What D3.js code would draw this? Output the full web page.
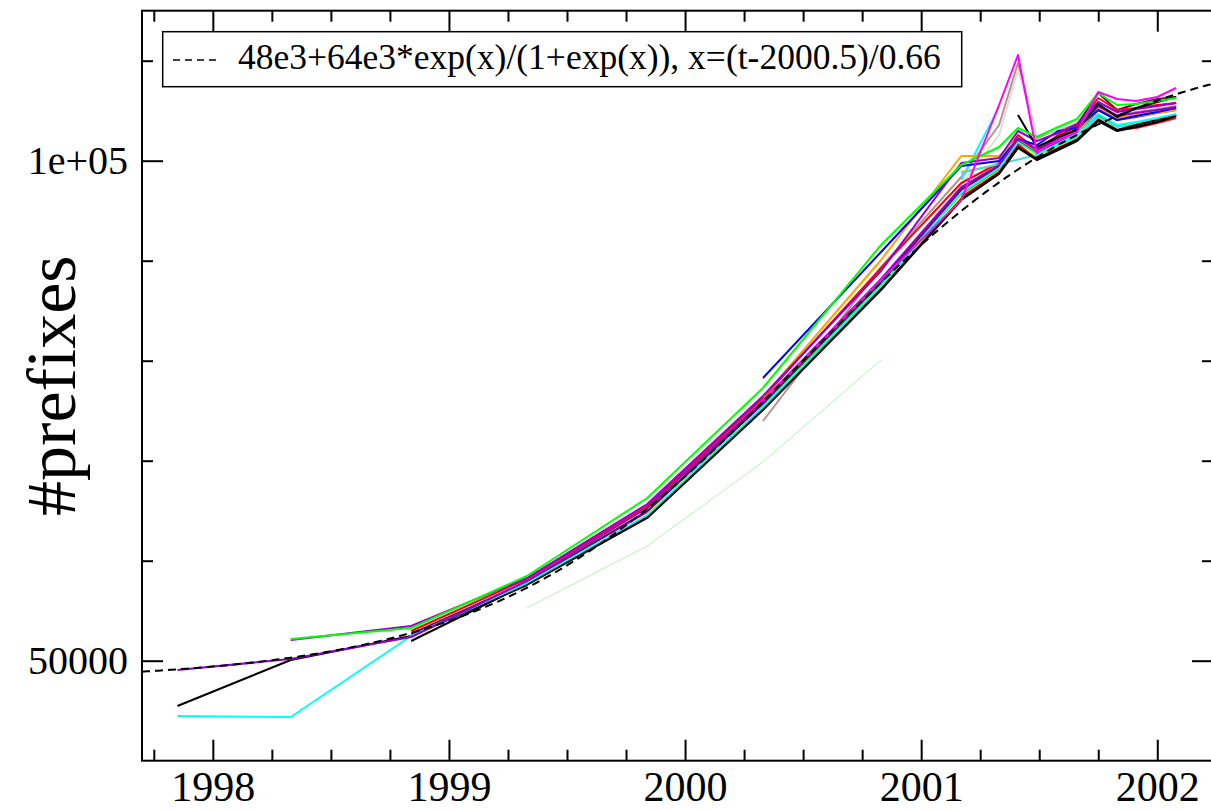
<!DOCTYPE html>
<html>
<head>
<meta charset="utf-8">
<script src="https://cdn.jsdelivr.net/npm/d3@7"></script>
<style>
  body { margin: 0; background: #fff; }
  svg { display: block; }
</style>
</head>
<body>
<svg id="chart" width="1211" height="810"></svg>
<script>
// sample times (decimal years)
var times = [1997.85, 1998.33, 1998.84, 1999.33, 1999.84, 2000.33, 2000.83, 2001.17, 2001.33,
  2001.41, 2001.49, 2001.58, 2001.66, 2001.75, 2001.83, 2001.91, 2002.0, 2002.08];

var xMajor = [1998, 1999, 2000, 2001, 2002];
var xMinor = [1997.75, 1998.25, 1998.5, 1998.75, 1999.25, 1999.5, 1999.75, 2000.25, 2000.5, 2000.75,
  2001.25, 2001.5, 2001.75];
var yMajor = [50000, 100000];
var yMinor = [60000, 70000, 80000, 90000, 110000];
var yLabels = {50000: "50000", 100000: "1e+05"};

// fit from the legend: 48e3+64e3*exp(x)/(1+exp(x)), x=(t-2000.5)/0.66
var fitBase = 48e3, fitAmp = 64e3, fitMid = 2000.5, fitWidth = 0.66;
var legendText = "48e3+64e3*exp(x)/(1+exp(x)), x=(t-2000.5)/0.66";

var _ = null;
var brown    = [_, _, _, _, _, 73970, 89370, 98370, 103570, 109770, 102270, 103170, 103570, 105570, 104570, 104870, 105170, 105470];
var grey     = [_, _, _, _, _, _, _, 97570, 102570, 109070, 102470, 103170, 103870, 105770, 104870, 105070, 105370, 105670];
var ltgreen  = [_, _, _, 55270, 61470, 69870, 80070, _, _, _, _, _, _, _, _, _, _, _];
var cyan2    = [_, _, _, _, _, _, _, 98070, 105370, _, _, _, _, _, _, _, _, _];
var orange2  = [_, _, _, _, _, _, _, 98870, 99570, 102270, 101170, 102270, 103070, 105270, 104270, 104570, 104870, 105170];
var indigo   = [_, _, _, 57870, 64870, 75670, 87870, 97070, 99370, 101970, 100770, 101870, 102770, 105070, 104070, 104370, 104770, 105070];
var green4   = [_, _, _, _, _, 75570, 87670, 96570, 99070, 101470, 100370, 101370, 102270, 104470, 103470, 103770, 104170, 104570];
var yellow   = [_, _, _, _, 64670, 75370, 87470, 96470, 98970, 101670, 100470, 101470, 102370, 104270, 103370, 103670, 104070, 104570];
var maroon   = [_, _, 52670, 57870, 64970, 75770, 87970, 97170, 99470, 102070, 100870, 102370, 103570, 106770, 105070, 105670, 106170, 106370];
var red2     = [_, _, _, _, _, _, _, 96370, 98870, 101670, 100070, 101270, 102070, 104170, 103070, 103270, 103770, 104270];
var red      = [_, _, 52970, 58170, 65470, 76270, 89270, 97770, 99770, 102570, 101070, 102570, 103370, 106270, 105070, 105270, 105570, 105770];
var orange   = [_, _, _, _, _, 76370, 90070, 100470, 100470, 102170, 100970, 102070, 102870, 105170, 104170, 104470, 104770, 105070];
var blue     = [_, _, _, _, _, 78270, 90870, 99470, 99970, 102170, 101570, 102970, 103270, 105070, 104070, 104470, 104870, 105270];
var turquoise= [_, _, _, _, _, _, _, 98770, _, _, 100570, 101570, 102370, 104370, 103370, 103670, 104070, 104470];
var black3   = [_, _, 51970, 57670, 64370, 75170, 87170, 96170, 98770, 101370, 100170, 101170, 102070, 104070, 103070, 103570, 104070, 104570];
var black    = [45470, 50070, 52470, 57570, 64270, 75070, 87070, 96070, 98670, 101270, 100070, 101070, 101970, 103970, 102970, 103370, 103870, 104470];
var cyan     = [44470, 44370, 52470, 57770, 64570, 75370, 87470, 96770, 99270, 101870, 100670, 101670, 102670, 104670, 103570, 103870, 104270, 104670];
var violet   = [49070, 50170, 52370, 57970, 65270, 75970, 88170, 97370, 99570, 102270, 101070, 102170, 103170, 105470, 104470, 104770, 105070, 105370];
var violet2  = [_, 52070, 53470, 58270, 65670, 76470, 88970, 99770, 100270, 102970, 101970, 102770, 103670, 105870, 104870, 105170, 105470, 105770];
var black2   = [_, _, _, _, _, _, _, _, _, 104570, 101370, 102370, 103070, 105670, 104370, 105270, 105870, 106370];
var green    = [_, 52170, 53270, 58470, 66270, 77270, 91570, 99570, 101370, 103270, 102370, 103370, 104170, 106770, 105570, 105670, 105970, 106270];
var magenta  = [_, _, _, _, _, 75970, 88070, 96070, 105570, 110570, 100770, 102070, 102870, 106870, 106170, 105970, 106370, 107270];

var series = [
  {v: brown, c: "rgb(188,143,143)"}, {v: grey, c: "rgb(220,220,220)"},
  {v: ltgreen, c: "#b4f3b4", w: 1}, {v: cyan2, c: "#00ffff"}, {v: orange2, c: "#ffa500"},
  {v: indigo, c: "rgb(114,33,188)"}, {v: green4, c: "rgb(0,139,0)"}, {v: yellow, c: "#ffff00"},
  {v: maroon, c: "rgb(103,7,72)"}, {v: red2, c: "#ff0000"}, {v: red, c: "#ff0000"},
  {v: orange, c: "#ffa500"}, {v: blue, c: "#0000ff"}, {v: turquoise, c: "rgb(64,224,208)"},
  {v: black3, c: "#000"}, {v: black, c: "#000"}, {v: cyan, c: "#00ffff"},
  {v: violet, c: "rgb(148,0,211)"}, {v: violet2, c: "rgb(148,0,211)"}, {v: black2, c: "#000"},
  {v: green, c: "#00ff00"}, {v: magenta, c: "#ff00ff"}
];

// pick a Times-like font if one is installed, else fall back to sans sizes
function hasFont(f){
  var c = document.createElement("canvas").getContext("2d");
  var s = "#prefixes 48e3+64e3*exp(x) 1998";
  c.font = "40px monospace";
  var a = c.measureText(s).width;
  c.font = '40px "' + f + '", monospace';
  return c.measureText(s).width !== a;
}
var serifName = ["Liberation Serif", "Tinos", "Times New Roman", "DejaVu Serif", "Noto Serif", "FreeSerif"]
  .find(hasFont);
var font = serifName ? '"' + serifName + '", serif' : '"Liberation Sans", Arial, sans-serif';
var fs = serifName
  ? {x: 42, y: 40, title: 70, legend: 35.5}
  : {x: 40, y: 36.5, title: 71, legend: 36.8};

var L = 142, R = 1213, T = 10.7, B = 760.7;
var svg = d3.select("#chart");
var x = d3.scaleLinear().domain([1997.7, 2002.236]).range([L, R]);
var y = d3.scaleLinear().domain([40000, 115000]).range([B, T]);

var plot = svg.append("g");
var line = d3.line().x(d => x(d.t)).y(d => y(d.v));

series.forEach(function(s){
  var pts = s.v.map((v, i) => ({t: times[i], v: v})).filter(d => d.v != null);
  plot.append("path")
      .attr("d", line(pts))
      .attr("fill", "none")
      .attr("stroke", s.c)
      .attr("stroke-width", s.w || 2)
      .attr("stroke-linejoin", "round");
});

// fitted curve
var fitPts = d3.range(x.domain()[0], x.domain()[1], 0.01).map(function(t){
  var e = Math.exp((t - fitMid) / fitWidth);
  return {t: t, v: fitBase + fitAmp * e / (1 + e)};
});
plot.append("path")
    .attr("d", line(fitPts))
    .attr("fill", "none")
    .attr("stroke", "#000")
    .attr("stroke-width", 2)
    .attr("stroke-dasharray", "8,5");

// axes (ticks pointing inward)
function style(g){
  g.attr("font-family", font);
  g.select(".domain").remove();
  g.selectAll("line").attr("stroke", "#000").attr("stroke-width", 2);
  g.selectAll("text").attr("fill", "#000");
}
svg.append("g").attr("transform", "translate(0," + B + ")")
   .call(d3.axisBottom(x).tickValues(xMajor).tickSize(-21).tickPadding(10).tickFormat(d3.format("d")))
   .call(style).selectAll("text").attr("font-size", fs.x);
svg.append("g").attr("transform", "translate(0," + B + ")")
   .call(d3.axisBottom(x).tickValues(xMinor).tickSize(-11).tickFormat("")).call(style);
svg.append("g").attr("transform", "translate(0," + T + ")")
   .call(d3.axisTop(x).tickValues(xMajor).tickSize(-21).tickFormat("")).call(style);
svg.append("g").attr("transform", "translate(0," + T + ")")
   .call(d3.axisTop(x).tickValues(xMinor).tickSize(-11).tickFormat("")).call(style);
svg.append("g").attr("transform", "translate(" + L + ",0)")
   .call(d3.axisLeft(y).tickValues(yMajor).tickSize(-21).tickPadding(14).tickFormat(d => yLabels[d]))
   .call(style).selectAll("text").attr("font-size", fs.y);
svg.append("g").attr("transform", "translate(" + L + ",0)")
   .call(d3.axisLeft(y).tickValues(yMinor).tickSize(-11).tickFormat("")).call(style);
svg.append("g").attr("transform", "translate(" + R + ",0)")
   .call(d3.axisRight(y).tickValues(yMajor).tickSize(-21).tickFormat("")).call(style);
svg.append("g").attr("transform", "translate(" + R + ",0)")
   .call(d3.axisRight(y).tickValues(yMinor).tickSize(-11).tickFormat("")).call(style);

svg.append("rect")
   .attr("x", L).attr("y", T).attr("width", R - L).attr("height", B - T)
   .attr("fill", "none").attr("stroke", "#000").attr("stroke-width", 2);

// y title
svg.append("text")
   .attr("transform", "translate(75," + ((T + B) / 2) + ") rotate(-90)")
   .attr("text-anchor", "middle")
   .attr("font-family", font)
   .attr("font-size", fs.title)
   .text("#prefixes");

// legend
var lg = svg.append("g");
lg.append("rect").attr("x", 162.7).attr("y", 31.7).attr("width", 799).attr("height", 55)
  .attr("fill", "#fff").attr("stroke", "#000").attr("stroke-width", 1.5);
lg.append("line").attr("x1", 173).attr("x2", 217).attr("y1", 60).attr("y2", 60)
  .attr("stroke", "#000").attr("stroke-width", 1.5).attr("stroke-dasharray", "7,5");
lg.append("text").attr("x", 238).attr("y", 68.5)
  .attr("font-family", font)
  .attr("font-size", fs.legend)
  .text(legendText);
</script>
</body>
</html>
